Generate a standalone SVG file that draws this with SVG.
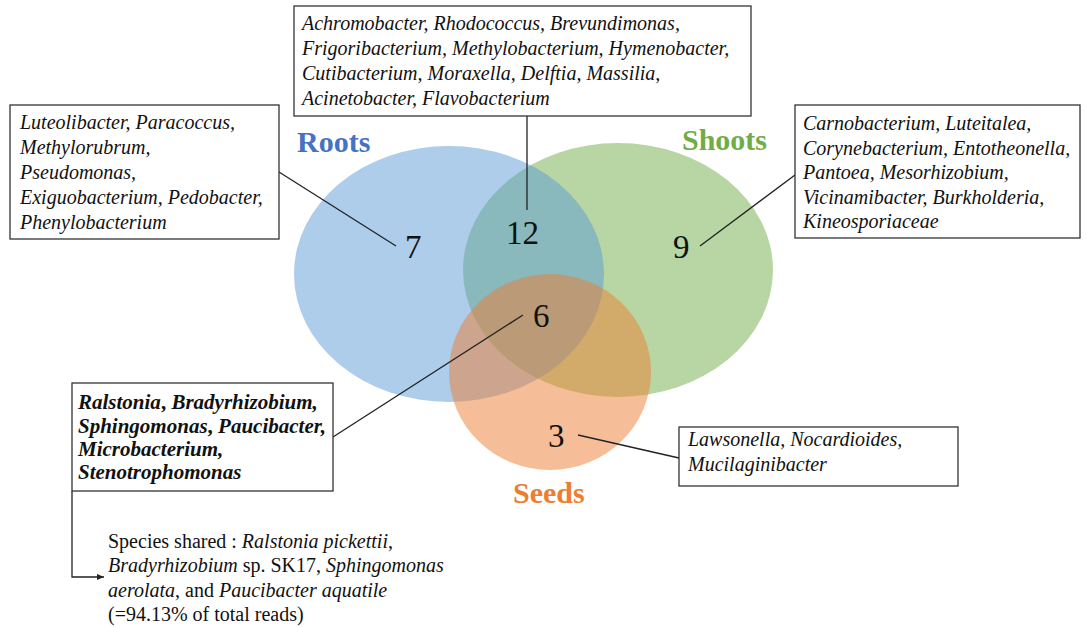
<svg xmlns="http://www.w3.org/2000/svg" width="1087" height="627" viewBox="0 0 1087 627">
<style>
.box{fill:#fff;stroke:#333;stroke-width:1.3}
.t{font-family:"Liberation Serif","Times New Roman",serif;font-size:20px;fill:#111}
.i{font-style:italic}
.bi{font-style:italic;font-weight:bold;font-size:21px}
.num{font-family:"Liberation Serif","Times New Roman",serif;font-size:33px;fill:#111}
.lab{font-family:"Liberation Serif","Times New Roman",serif;font-size:30px;font-weight:bold}
.ln{stroke:#222;stroke-width:1.3;fill:none}
</style>
<defs>
<marker id="ah" markerWidth="8" markerHeight="8" refX="7" refY="4" orient="auto" markerUnits="userSpaceOnUse">
<path d="M0,1 L7,4 L0,7 Z" fill="#222"/>
</marker>
</defs>
<rect width="1087" height="627" fill="#fff"/>
<g id="venn">
<ellipse id="shoots" cx="618" cy="270" rx="155" ry="127" fill="#70AD47" fill-opacity="0.5"/>
<ellipse id="roots" cx="449" cy="274" rx="155" ry="128" fill="#5B9BD5" fill-opacity="0.5"/>
<ellipse id="seeds" cx="550" cy="372" rx="101" ry="98" fill="#ED7D31" fill-opacity="0.5"/>
</g>
<g id="labels">
<text class="lab" x="297" y="152" fill="#4472C4">Roots</text>
<text class="lab" x="682" y="150" fill="#70AD47">Shoots</text>
<text class="lab" x="513" y="503" fill="#ED7D31">Seeds</text>
</g>
<g id="numbers">
<text class="num" x="405" y="258">7</text>
<text class="num" x="506" y="244">12</text>
<text class="num" x="673" y="258">9</text>
<text class="num" x="533" y="327">6</text>
<text class="num" x="548" y="447">3</text>
</g>
<g id="connectors">
<line class="ln" x1="279" y1="172" x2="396" y2="246"/>
<line class="ln" x1="527" y1="116" x2="527" y2="210"/>
<line class="ln" x1="700" y1="246" x2="795" y2="175"/>
<line class="ln" x1="523" y1="315" x2="333" y2="437"/>
<line class="ln" x1="578" y1="435" x2="679" y2="458"/>
<path class="ln" d="M72,491 V577 H104" marker-end="url(#ah)"/>
</g>
<g id="box-shared-rs">
<rect class="box" x="294" y="6" width="457" height="110"/>
<text class="t i" x="302" y="30">Achromobacter, Rhodococcus, Brevundimonas,</text>
<text class="t i" x="302" y="55">Frigoribacterium, Methylobacterium, Hymenobacter,</text>
<text class="t i" x="302" y="80">Cutibacterium, Moraxella, Delftia, Massilia,</text>
<text class="t i" x="302" y="105">Acinetobacter, Flavobacterium</text>
</g>
<g id="box-roots">
<rect class="box" x="10" y="105" width="269" height="134"/>
<text class="t i" x="20" y="129">Luteolibacter, Paracoccus,</text>
<text class="t i" x="20" y="154">Methylorubrum,</text>
<text class="t i" x="20" y="179">Pseudomonas,</text>
<text class="t i" x="20" y="204">Exiguobacterium, Pedobacter,</text>
<text class="t i" x="20" y="229">Phenylobacterium</text>
</g>
<g id="box-shoots">
<rect class="box" x="795" y="105" width="285" height="133"/>
<text class="t i" x="803" y="130">Carnobacterium, Luteitalea,</text>
<text class="t i" x="803" y="155">Corynebacterium, Entotheonella,</text>
<text class="t i" x="803" y="179">Pantoea, Mesorhizobium,</text>
<text class="t i" x="803" y="204">Vicinamibacter, Burkholderia,</text>
<text class="t i" x="803" y="228">Kineosporiaceae</text>
</g>
<g id="box-all">
<rect class="box" x="72" y="383" width="261" height="108"/>
<text class="t bi" x="78" y="409">Ralstonia<tspan font-style="normal">,</tspan> Bradyrhizobium,</text>
<text class="t bi" x="78" y="433">Sphingomonas<tspan font-style="normal">,</tspan> Paucibacter,</text>
<text class="t bi" x="78" y="456">Microbacterium,</text>
<text class="t bi" x="78" y="479">Stenotrophomonas</text>
</g>
<g id="box-seeds">
<rect class="box" x="679" y="427" width="279" height="59"/>
<text class="t i" x="688" y="446">Lawsonella, Nocardioides,</text>
<text class="t i" x="688" y="471">Mucilaginibacter</text>
</g>
<g id="species-note">
<text class="t" x="108" y="548" font-size="21">Species shared : <tspan font-style="italic">Ralstonia pickettii</tspan>,</text>
<text class="t" x="108" y="572" font-size="21"><tspan font-style="italic">Bradyrhizobium</tspan> sp. SK17, <tspan font-style="italic">Sphingomonas</tspan></text>
<text class="t" x="108" y="597" font-size="21"><tspan font-style="italic">aerolata</tspan>, and <tspan font-style="italic">Paucibacter aquatile</tspan></text>
<text class="t" x="108" y="621" font-size="21">(=94.13% of total reads)</text>
</g>
</svg>
